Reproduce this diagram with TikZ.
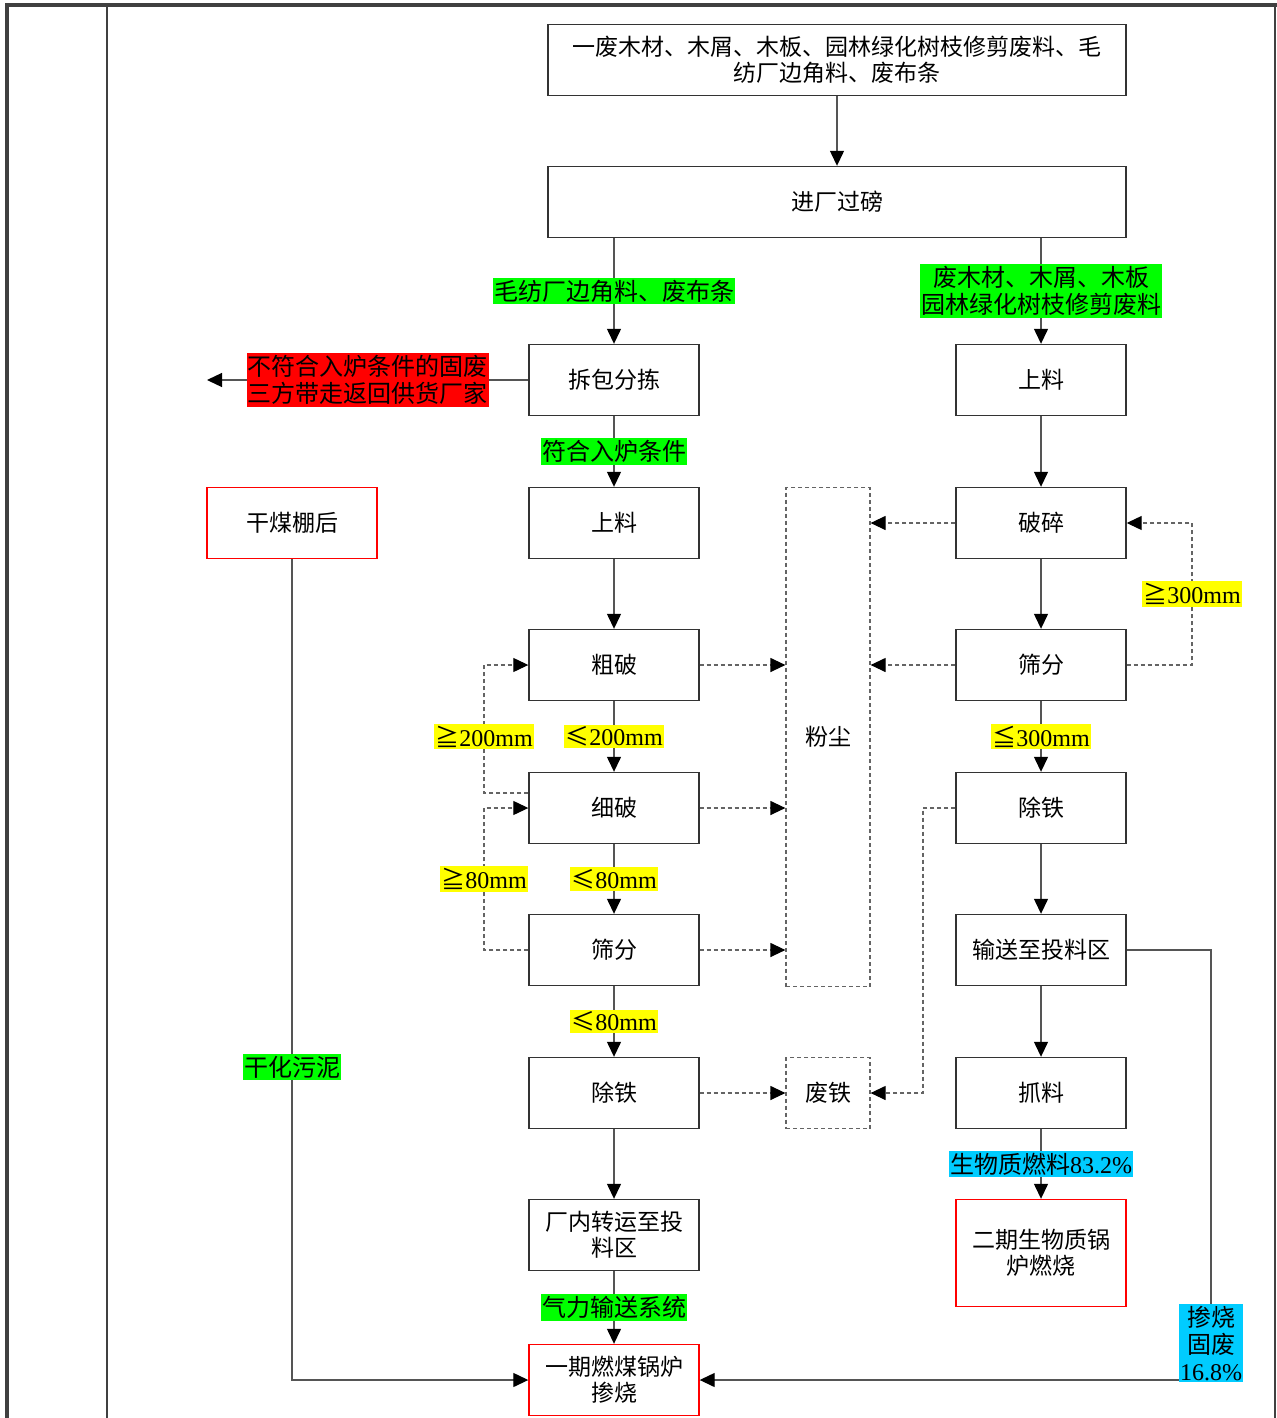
\documentclass[tikz,border=0pt]{standalone}
\usepackage{fontspec}
\setmainfont{Noto Sans CJK SC}
\newfontfamily\lat{Liberation Serif}
\usetikzlibrary{arrows.meta}
\definecolor{lgreen}{RGB}{0,255,0}
\definecolor{lyellow}{RGB}{255,255,0}
\definecolor{lred}{RGB}{255,0,0}
\definecolor{lcyan}{RGB}{0,204,255}
\definecolor{lgray}{RGB}{85,85,85}
\definecolor{dgray}{RGB}{100,100,100}
\tikzset{
  box/.style={draw=black!80,line width=0.7pt,minimum width=85pt,minimum height=35.5pt,align=center,inner sep=2pt,font=\fontsize{11.5}{13}\selectfont},
  redbox/.style={box,draw=lred},
  dbox/.style={box,draw=dgray,dashed,dash pattern=on 2pt off 1.5pt,line width=0.6pt},
  lab/.style={inner xsep=0.5pt,inner ysep=1pt,align=center,font=\fontsize{12}{13.5}\selectfont},
  glab/.style={lab,fill=lgreen},
  ylab/.style={lab,fill=lyellow},
  rlab/.style={lab,fill=lred},
  clab/.style={lab,fill=lcyan},
  arr/.style={draw=lgray,line width=0.65pt,-{Triangle[length=7.5pt,width=7pt,color=black,fill=black]}},
  darr/.style={draw=dgray,line width=0.6pt,dash pattern=on 2pt off 1.5pt,-{Triangle[length=7.5pt,width=7pt,color=black,fill=black]}},
}
\begin{document}
\begin{tikzpicture}[x=0.5pt,y=-0.5pt]
\useasboundingbox (0,0) rectangle (1277,1418);
\fill[white] (0,0) rectangle (1277,1418);
% frame
\draw[line width=1.6pt,draw=black!75] (7,1418) -- (7,5) -- (1277,5);
\draw[line width=1pt,draw=black!75] (107,5) -- (107,1418);
\draw[line width=0.6pt,draw=black!75] (1275,5) -- (1275,1418);

% nodes
\node[box,minimum width=289pt] (top) at (837,60) {一废木材、木屑、木板、园林绿化树枝修剪废料、毛\\纺厂边角料、废布条};
\node[box,minimum width=289pt] (jc) at (837,202) {进厂过磅};
\node[box] (cb) at (614,380) {拆包分拣};
\node[box] (sl2) at (1041,380) {上料};
\node[redbox] (gm) at (292,523) {干煤棚后};
\node[box] (sl1) at (614,523) {上料};
\node[dbox,minimum width=42pt,minimum height=249.5pt] (fc) at (828,737) {粉尘};
\node[box] (ps) at (1041,523) {破碎};
\node[box] (cp) at (614,665) {粗破};
\node[box] (sf2) at (1041,665) {筛分};
\node[box] (xp) at (614,808) {细破};
\node[box] (ct2) at (1041,808) {除铁};
\node[box] (sf1) at (614,950) {筛分};
\node[box] (ss) at (1041,950) {输送至投料区};
\node[box] (ct1) at (614,1093) {除铁};
\node[dbox,minimum width=42pt] (ft) at (828,1093) {废铁};
\node[box] (zl) at (1041,1093) {抓料};
\node[box] (cn) at (614,1235) {厂内转运至投\\料区};
\node[redbox,minimum height=53.5pt] (eq) at (1041,1253) {二期生物质锅\\炉燃烧};
\node[redbox] (yq) at (614,1380) {一期燃煤锅炉\\掺烧};
\coordinate (lend) at (207,380);

% solid arrows
\draw[arr] (top) -- (jc);
\draw[arr] (jc.south -| cb.north) -- node[glab]{毛纺厂边角料、废布条} (cb.north);
\draw[arr] (jc.south -| sl2.north) -- node[glab]{废木材、木屑、木板\\园林绿化树枝修剪废料} (sl2.north);
\draw[arr] (cb.west) -- node[rlab]{不符合入炉条件的固废\\三方带走返回供货厂家} (lend);
\draw[arr] (cb) -- node[glab]{符合入炉条件} (sl1);
\draw[arr] (sl1) -- (cp);
\draw[arr] (cp) -- node[ylab]{≤{\lat 200mm}} (xp);
\draw[arr] (xp) -- node[ylab]{≤{\lat 80mm}} (sf1);
\draw[arr] (sf1) -- node[ylab]{≤{\lat 80mm}} (ct1);
\draw[arr] (ct1) -- (cn);
\draw[arr] (cn) -- node[glab]{气力输送系统} (yq);
\draw[arr] (sl2) -- (ps);
\draw[arr] (ps) -- (sf2);
\draw[arr] (sf2) -- node[ylab]{≦{\lat 300mm}} (ct2);
\draw[arr] (ct2) -- (ss);
\draw[arr] (ss) -- (zl);
\draw[arr] (zl) -- node[clab]{生物质燃料{\lat 83.2\%}} (eq);
\draw[arr] (gm.south) -- node[glab,pos=0.619]{干化污泥} (gm.south |- yq.west) -- (yq.west);
\draw[arr] (ss.east) -- (1211,950) |- node[clab,pos=0.457]{掺烧\\固废\\{\lat 16.8\%}} (yq.east);

% dashed loops
\draw[darr] (sf2.east) -- (1192,665) |- node[ylab,pos=0.25]{≧{\lat 300mm}} (ps.east);
\draw[darr] ([yshift=7.5pt]xp.west) -- (484,793) |- node[ylab,pos=0.22]{≧{\lat 200mm}} (cp.west);
\draw[darr] (sf1.west) -- (484,950) |- node[ylab,pos=0.25]{≧{\lat 80mm}} (xp.west);
\draw[darr] (ps.west) -- (ps.west -| fc.east);
\draw[darr] (sf2.west) -- (sf2.west -| fc.east);
\draw[darr] (cp.east) -- (cp.east -| fc.west);
\draw[darr] (xp.east) -- (xp.east -| fc.west);
\draw[darr] (sf1.east) -- (sf1.east -| fc.west);
\draw[darr] (ct1.east) -- (ft.west);
\draw[darr] (ct2.west) -- (923,808) |- (ft.east);
\end{tikzpicture}
\end{document}
